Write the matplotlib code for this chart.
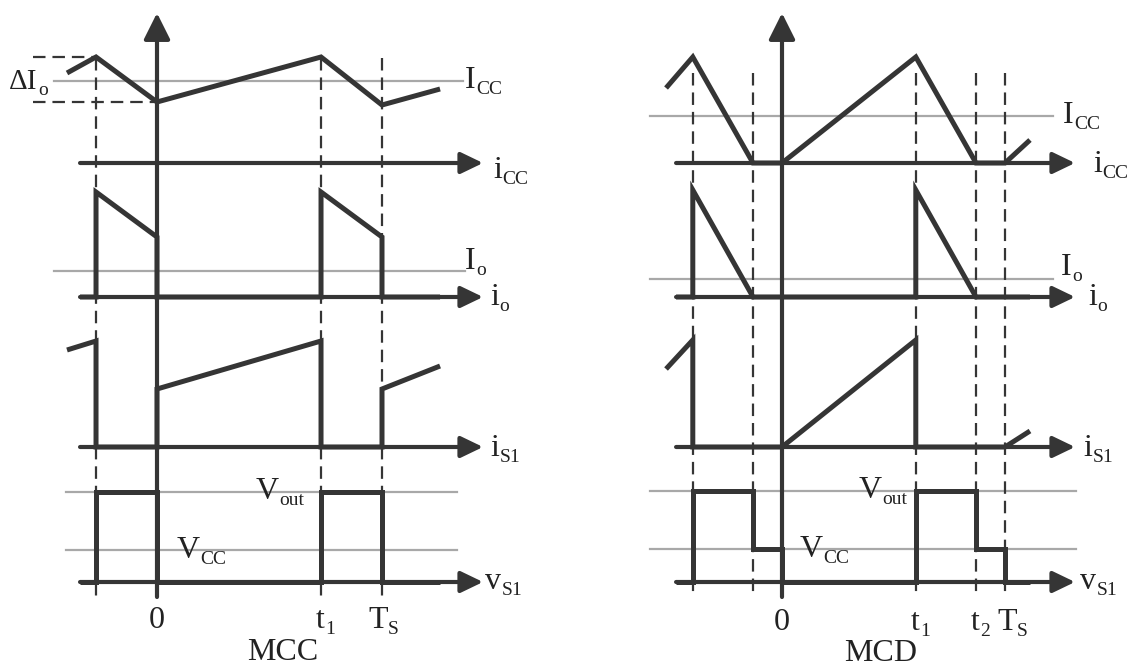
import matplotlib
matplotlib.use('Agg')
import matplotlib.pyplot as plt

plt.rcParams['font.family'] = ['Liberation Serif', 'DejaVu Serif']
plt.rcParams['lines.scale_dashes'] = False

W, H = 1131, 668
DARK = '#353535'
GREY = '#a8a8a8'

# ---- MCC waveforms (time in Ts, amplitude above each row's baseline) ----
mcc_icc_t = [-0.40, -0.271, 0.0, 0.729, 1.0, 1.258]
mcc_icc_v = [0.90, 1.06, 0.61, 1.06, 0.58, 0.74]
mcc_io_t = [-0.342, -0.271, -0.271, 0.0, 0.0, 0.729, 0.729, 1.0, 1.0, 1.258]
mcc_io_v = [0, 0, 1.05, 0.60, 0, 0, 1.05, 0.60, 0, 0]
mcc_is1_t = [-0.40, -0.271, -0.271, 0.0, 0.0, 0.729, 0.729, 1.0, 1.0, 1.258]
mcc_is1_v = [0.97, 1.06, 0, 0, 0.58, 1.06, 0, 0, 0.58, 0.81]
mcc_vs1_t = [-0.342, -0.271, -0.271, 0.0, 0.0, 0.729, 0.729, 1.0, 1.0, 1.258]
mcc_vs1_v = [0, 0, 0.90, 0.90, 0, 0, 0.90, 0.90, 0, 0]
mcc_levels = {'ICC': 0.82, 'Io': 0.26, 'Vout': 0.90, 'VCC': 0.32}
mcc_marks = [-0.271, 0.729, 1.0]

# ---- MCD waveforms ----
mcd_icc_t = [-0.52, -0.40, -0.13, 0.0, 0.60, 0.87, 1.0, 1.112]
mcd_icc_v = [0.75, 1.06, 0, 0, 1.06, 0, 0, 0.23]
mcd_io_t = [-0.475, -0.40, -0.40, -0.13, 0.60, 0.60, 0.87, 1.112]
mcd_io_v = [0, 0, 1.07, 0, 0, 1.07, 0, 0]
mcd_is1_t = [-0.52, -0.40, -0.40, 0.0, 0.60, 0.60, 1.0, 1.112]
mcd_is1_v = [0.78, 1.07, 0, 0, 1.07, 0, 0, 0.16]
mcd_vs1_t = [-0.475, -0.40, -0.40, -0.13, -0.13, 0.0, 0.0, 0.60, 0.60, 0.87, 0.87, 1.0, 1.0, 1.112]
mcd_vs1_v = [0, 0, 0.91, 0.91, 0.33, 0.33, 0, 0, 0.91, 0.91, 0.33, 0.33, 0, 0]
mcd_levels = {'ICC': 0.47, 'Io': 0.18, 'Vout': 0.91, 'VCC': 0.33}
mcd_marks = [-0.40, -0.13, 0.60, 0.87, 1.0]

# row baselines (pixel rows of the time axes)
ROWS_PX = {'icc': 163, 'io': 297, 'is1': 447, 'vs1': 582}


def y_of(px):
    return (H - px) / 100.0


fig = plt.figure(figsize=(W / 100, H / 100), dpi=100)


def make_panel(left_px, right_px, x0_px, ts_px):
    ax = fig.add_axes([left_px / W, 0, (right_px - left_px) / W, 1])
    ax.set_xlim((left_px - x0_px) / ts_px, (right_px - x0_px) / ts_px)
    ax.set_ylim(0, H / 100)
    ax.axis('off')
    return ax


def arrow(ax, start, tip, hl=1.6, hw=0.8):
    ax.annotate('', xy=tip, xytext=start,
                arrowprops=dict(arrowstyle='-|>,head_length=%g,head_width=%g' % (hl, hw),
                                lw=3.0, color=DARK, shrinkA=0, shrinkB=0,
                                mutation_scale=10))


def draw_panel(ax, waves, levels, marks, ax_span, grey_spans, dash_top):
    # grey reference levels
    for key, row in [('ICC', 'icc'), ('Io', 'io'), ('Vout', 'vs1'), ('VCC', 'vs1')]:
        base = y_of(ROWS_PX[row])
        xs = grey_spans[key]
        ax.plot(xs, [base + levels[key]] * 2, color=GREY, lw=1.6, zorder=1)
    # dashed instants
    for t in marks:
        ax.plot([t, t], [y_of(dash_top), y_of(598)], color=DARK, lw=1.6,
                dashes=(9, 5), zorder=2)
    # time axes
    for row in ROWS_PX:
        b = y_of(ROWS_PX[row])
        arrow(ax, (ax_span[0], b), (ax_span[1], b), hl=1.35, hw=0.65)
    # vertical axis
    arrow(ax, (0, y_of(597)), (0, y_of(13)), hl=1.6, hw=0.8)
    # waveforms
    for row, (t, v) in waves.items():
        b = y_of(ROWS_PX[row])
        ax.plot(t, [b + a for a in v], color=DARK, lw=3.6, zorder=4,
                solid_joinstyle='miter', solid_capstyle='butt')


axL = make_panel(0, 565, 157, 225)
draw_panel(axL,
           {'icc': (mcc_icc_t, mcc_icc_v), 'io': (mcc_io_t, mcc_io_v),
            'is1': (mcc_is1_t, mcc_is1_v), 'vs1': (mcc_vs1_t, mcc_vs1_v)},
           mcc_levels, mcc_marks, (-0.342, 1.449),
           {'ICC': (-0.458, 1.36), 'Io': (-0.458, 1.369),
            'Vout': (-0.404, 1.333), 'VCC': (-0.404, 1.333)}, 58)
# Delta Io box
b = y_of(ROWS_PX['icc'])
axL.plot([-0.551, -0.271], [b + 1.06] * 2, color=DARK, lw=1.6, dashes=(9, 5))
axL.plot([-0.551, 0.0], [b + 0.61] * 2, color=DARK, lw=1.6, dashes=(9, 5))

axR = make_panel(565, 1131, 782, 223)
draw_panel(axR,
           {'icc': (mcd_icc_t, mcd_icc_v), 'io': (mcd_io_t, mcd_io_v),
            'is1': (mcd_is1_t, mcd_is1_v), 'vs1': (mcd_vs1_t, mcd_vs1_v)},
           mcd_levels, mcd_marks, (-0.475, 1.314),
           {'ICC': (-0.592, 1.215), 'Io': (-0.592, 1.215),
            'Vout': (-0.592, 1.318), 'VCC': (-0.592, 1.318)}, 73)

renderer = fig.canvas.get_renderer()


def label(x, y, main, sub=None, size=23, subsize=14, ha='left'):
    t = fig.text(x / W, 1 - y / H, main, fontsize=size, ha=ha, va='baseline',
                 color='#222222')
    if sub:
        bb = t.get_window_extent(renderer)
        fig.text((bb.x1 + 0.5) / W, 1 - (y + 6) / H, sub, fontsize=subsize,
                 ha='left', va='baseline', color='#222222')


# MCC labels
label(9, 89, '\u0394I', 'o', size=21)
label(465, 88, 'I', 'CC')
label(493, 178, 'i', 'CC')
label(465, 269, 'I', 'o')
label(490, 305, 'i', 'o')
label(490, 456, 'i', 'S1')
label(485, 589, 'v', 'S1')
label(256, 499, 'V', 'out')
label(177, 558, 'V', 'CC')
label(157, 628, '0', ha='center')
label(316, 628, 't', '1')
label(368, 628, 'T', 'S')
label(283, 660, 'MCC', ha='center')

# MCD labels
label(1063, 123, 'I', 'CC')
label(1093, 172, 'i', 'CC')
label(1061, 275, 'I', 'o')
label(1088, 305, 'i', 'o')
label(1083, 456, 'i', 'S1')
label(1080, 589, 'v', 'S1')
label(859, 498, 'V', 'out')
label(800, 557, 'V', 'CC')
label(782, 630, '0', ha='center')
label(911, 630, 't', '1')
label(971, 630, 't', '2')
label(997, 630, 'T', 'S')
label(881, 661, 'MCD', ha='center')

fig.savefig('out.png', dpi=100)
